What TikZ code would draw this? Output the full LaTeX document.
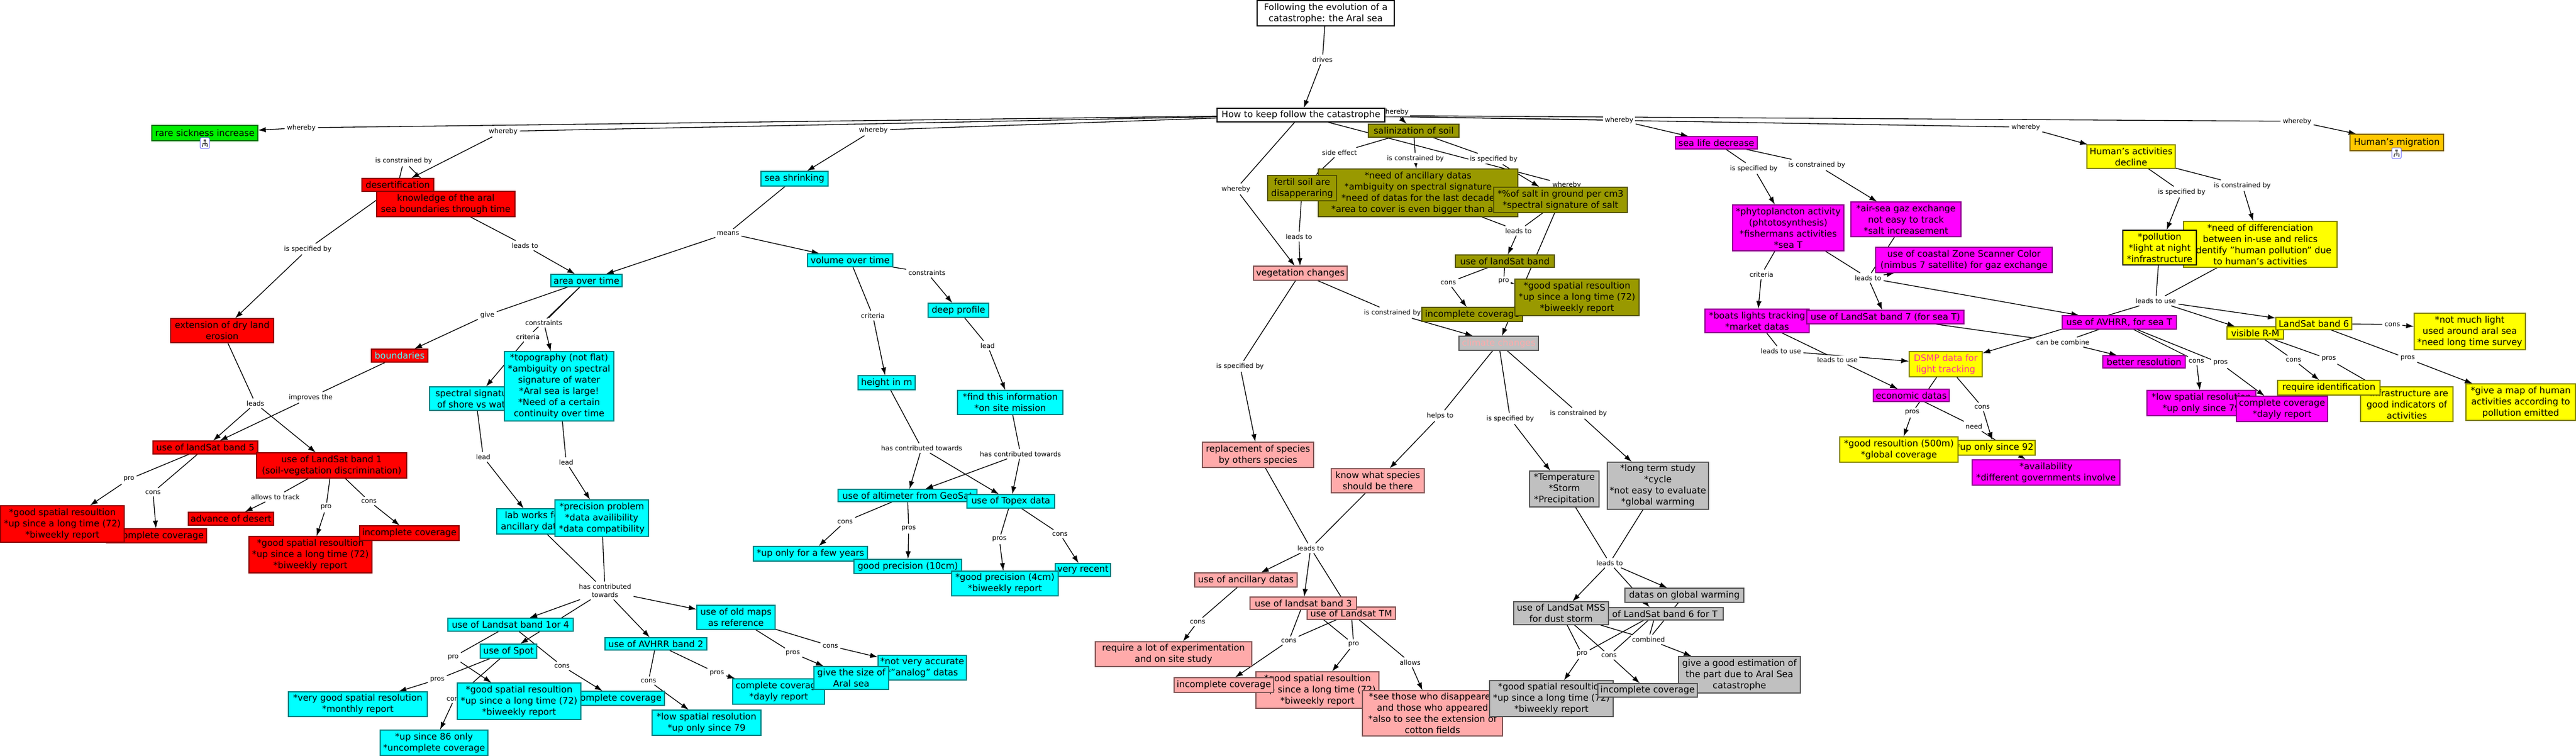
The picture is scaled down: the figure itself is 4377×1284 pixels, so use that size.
\documentclass[tikz,border=0pt]{standalone}
\usepackage{fontspec}
\setmainfont{DejaVu Sans}
\usetikzlibrary{arrows.meta,backgrounds}
\definecolor{cRed}{HTML}{FF0000}
\definecolor{cCyan}{HTML}{00FFFF}
\definecolor{cOlive}{HTML}{999900}
\definecolor{cPink}{HTML}{FFAAAA}
\definecolor{cGray}{HTML}{C0C0C0}
\definecolor{cMag}{HTML}{FF00FF}
\definecolor{cYel}{HTML}{FFFF00}
\definecolor{cOra}{HTML}{FFC800}
\definecolor{cGre}{HTML}{00EE00}
\definecolor{cHot}{HTML}{FF3399}
\tikzset{
  bxbase/.style={rectangle,line width=1.2pt,inner sep=0pt,align=center,font=\fontsize{15.2}{19}\selectfont},
  Wbx/.style={bxbase,fill=white,draw=black},
  Rbx/.style={bxbase,fill=cRed,draw=cRed!55!black},
  Cbx/.style={bxbase,fill=cCyan,draw=cCyan!50!black},
  Obx/.style={bxbase,fill=cOlive,draw=cOlive!55!black},
  Pbx/.style={bxbase,fill=cPink,draw=cPink!50!black},
  Gbx/.style={bxbase,fill=cGray,draw=cGray!45!black},
  Mbx/.style={bxbase,fill=cMag,draw=cMag!55!black},
  Ybx/.style={bxbase,fill=cYel,draw=cYel!50!black},
  Abx/.style={bxbase,fill=cOra,draw=cOra!50!black},
  Gnbx/.style={bxbase,fill=cGre,draw=cGre!50!black},
  lbl/.style={rectangle,fill=white,inner sep=2.5pt,outer sep=1.5pt,align=center,font=\fontsize{11.3}{14}\selectfont},
  conn/.style={line width=1.3pt,draw=black},
  conar/.style={conn,-{Latex[length=13pt,width=9pt]}},
}
\newcommand{\bx}[7][]{%
  \pgfmathsetmacro{\cxx}{(#4+#6)/2}\pgfmathsetmacro{\cyy}{(#5+#7)/2}%
  \pgfmathsetmacro{\wwx}{#6-#4}\pgfmathsetmacro{\hhx}{#7-#5}%
  \node[#2,minimum width=\wwx pt,minimum height=\hhx pt,#1] (#3) at (\cxx,\cyy) {\bxtext};}
\newcommand{\bxtext}{}
\newcommand{\B}[8][]{\renewcommand{\bxtext}{#8}\bx[#1]{#2}{#3}{#4}{#5}{#6}{#7}}
\newcommand{\lb}[4]{\node[lbl] (#1) at (#2,#3) {#4};}
\newcommand{\iconmark}[2]{%
  \draw[line width=1pt,draw=blue!60!white,fill=white,rounded corners=2pt] (#1-8,#2) rectangle (#1+8,#2+18);
  \draw[line width=1pt,draw=black!70] (#1,#2+4) -- (#1,#2+14) (#1-4,#2+10) -- (#1+4,#2+10) (#1-4,#2+10) -- (#1-4,#2+14) (#1+4,#2+10) -- (#1+4,#2+14);
  \fill[black!70] (#1-2,#2+3) rectangle (#1+2,#2+6) (#1-5,#2+13) rectangle (#1-3,#2+15) (#1+3,#2+13) rectangle (#1+5,#2+15);}
\begin{document}
\begin{tikzpicture}[x=1pt,y=-1pt]
\useasboundingbox (0,0) rectangle (4377,1284);
% ---- linking phrases
\lb{lDrives}{2247}{101}{drives}
\lb{wRare}{512}{217}{whereby}
\lb{wDes}{855}{223}{whereby}
\lb{wSea}{1484}{221}{whereby}
\lb{wSal}{2369}{190}{whereby}
\lb{wVeg}{2100}{321}{whereby}
\lb{wClim}{2662}{314}{whereby}
\lb{wLife}{2751}{204}{whereby}
\lb{wAct}{3442}{216}{whereby}
\lb{wMig}{3903}{206}{whereby}
\lb{lDesC}{686}{273}{is constrained by}
\lb{lDesS}{523}{423}{is specified by}
\lb{lKnow}{892}{417}{leads to}
\lb{lGive}{828}{535}{give}
\lb{lAreaC}{924}{548}{constraints}
\lb{lAreaK}{897}{572}{criteria}
\lb{lLeads}{434}{685}{leads}
\lb{lImpr}{528}{675}{improves the}
\lb{lLeadA}{821}{776}{lead}
\lb{lLeadB}{962}{785}{lead}
\lb{lPro5}{219}{814}{pro}
\lb{lCons5}{260}{836}{cons}
\lb{lTrack}{468}{844}{allows to track}
\lb{lPro1}{554}{862}{pro}
\lb{lCons1}{627}{851}{cons}
\lb{lHas}{1028}{1003}{has contributed\\towards}
\lb{lPro14}{770}{1116}{pro}
\lb{lCons14}{955}{1131}{cons}
\lb{lProsSp}{743}{1154}{pros}
\lb{lConsSp}{772}{1187}{cons}
\lb{lProsMap}{1347}{1109}{pros}
\lb{lConsMap}{1411}{1097}{cons}
\lb{lProsAv}{1218}{1143}{pros}
\lb{lConsAv}{1102}{1156}{cons}
\lb{lMeans}{1237}{396}{means}
\lb{lVolC}{1575}{463}{constraints}
\lb{lVolK}{1483}{536}{criteria}
\lb{lDeep}{1678}{587}{lead}
\lb{lHasA}{1566}{761}{has contributed towards}
\lb{lHasB}{1734}{771}{has contributed towards}
\lb{lConsAl}{1436}{886}{cons}
\lb{lProsAl}{1544}{898}{pros}
\lb{lProsTo}{1698}{916}{pros}
\lb{lConsTo}{1801}{907}{cons}
\lb{lSide}{2276}{259}{side effect}
\lb{lSalC}{2405}{269}{is constrained by}
\lb{lSalS}{2538}{270}{is specified by}
\lb{lFert}{2207}{402}{leads to}
\lb{lSalL}{2580}{392}{leads to}
\lb{lConsBd}{2461}{480}{cons}
\lb{lProBd}{2555}{478}{pro}
\lb{lVegC}{2366}{531}{is constrained by}
\lb{lVegS}{2107}{622}{is specified by}
\lb{lHelps}{2447}{706}{helps to}
\lb{lClimS}{2566}{711}{is specified by}
\lb{lClimC}{2682}{702}{is constrained by}
\lb{lLeadP}{2227}{931}{leads to}
\lb{lLeadG}{2735}{956}{leads to}
\lb{lConsAn}{2035}{1056}{cons}
\lb{lConsTM}{2190}{1088}{cons}
\lb{lProTM}{2300}{1094}{pro}
\lb{lAllows}{2396}{1125}{allows}
\lb{lCombi}{2801}{1086}{combined}
\lb{lProMS}{2688}{1111}{pro}
\lb{lConsMS}{2734}{1113}{cons}
\lb{lLifeS}{2980}{286}{is specified by}
\lb{lLifeC}{3087}{280}{is constrained by}
\lb{lPhyK}{2993}{466}{criteria}
\lb{lPhyL}{3174}{472}{leads to}
\lb{lUseA}{3026}{596}{leads to use}
\lb{lUseB}{3122}{611}{leads to use}
\lb{lCan}{3505}{581}{can be combine}
\lb{lConsD}{3368}{691}{cons}
\lb{lProsD}{3249}{701}{pros}
\lb{lNeed}{3354}{724}{need}
\lb{lActS}{3707}{326}{is specified by}
\lb{lActC}{3810}{315}{is constrained by}
\lb{lUseC}{3663}{511}{leads to use}
\lb{lConsA}{3732}{613}{cons}
\lb{lProsA}{3773}{617}{pros}
\lb{lConsV}{3897}{611}{cons}
\lb{lProsV}{3957}{610}{pros}
\lb{lConsL}{4065}{551}{cons}
\lb{lProsL}{4091}{609}{pros}
% ---- concepts
\B{Wbx}{nTitle}{2136}{1}{2369}{44}{Following the evolution of a\\catastrophe: the Aral sea}
\B{Wbx}{nHow}{2068}{184}{2353}{207}{How to keep follow the catastrophe}
\B{Gnbx}{nRare}{258}{213}{438}{239}{rare sickness increase}
% red
\B{Rbx}{nDes}{615}{303}{737}{325}{desertification}
\B{Rbx}{nKnow}{640}{325}{875}{368}{knowledge of the aral\\sea boundaries through time}
\B{Rbx}{nExt}{290}{541}{465}{582}{extension of dry land\\erosion}
\B[text=cCyan!70!white]{Rbx}{nBound}{631}{593}{727}{615}{boundaries}
\B{Rbx}{nBdF}{260}{749}{438}{771}{use of landSat band 5}
\B{Rbx}{nBdO}{436}{769}{691}{812}{use of LandSat band 1\\(soil-vegetation discrimination)}
\B{Rbx}{nIncA}{181}{898}{351}{922}{incomplete coverage}
\B{Rbx}{nGoodA}{1}{859}{211}{921}{*good spatial resoultion\\*up since a long time (72)\\*biweekly report}
\B{Rbx}{nAdv}{320}{870}{465}{892}{advance of desert}
\B{Rbx}{nGoodB}{423}{911}{632}{973}{*good spatial resoultion\\*up since a long time (72)\\*biweekly report}
\B{Rbx}{nIncB}{611}{893}{780}{918}{incomplete coverage}
% cyan
\B{Cbx}{nSea}{1293}{291}{1407}{316}{sea shrinking}
\B{Cbx}{nArea}{936}{466}{1057}{487}{area over time}
\B{Cbx}{nVol}{1372}{431}{1517}{453}{volume over time}
\B{Cbx}{nDeep}{1577}{515}{1680}{539}{deep profile}
\B{Cbx}{nHeight}{1458}{638}{1555}{662}{height in m}
\B{Cbx}{nFind}{1627}{663}{1806}{704}{*find this information\\*on site mission}
\B{Cbx}{nSpec}{730}{657}{887}{697}{spectral signature\\of shore vs water}
\B{Cbx}{nTopo}{857}{597}{1043}{715}{*topography (not flat)\\*ambiguity on spectral\\signature of water\\*Aral sea is large!\\*Need of a certain\\continuity over time}
\B{Cbx}{nLab}{844}{864}{970}{907}{lab works for\\ancillary datas}
\B{Cbx}{nPrec}{943}{849}{1102}{911}{*precision problem\\*data availibility\\*data compatibility}
\B{Cbx}{nBdOF}{761}{1050}{974}{1072}{use of Landsat band 1or 4}
\B{Cbx}{nSpot}{816}{1094}{912}{1118}{use of Spot}
\B{Cbx}{nAvh}{1028}{1083}{1201}{1104}{use of AVHRR band 2}
\B{Cbx}{nMaps}{1184}{1028}{1317}{1069}{use of old maps\\as reference}
\B{Cbx}{nVery}{490}{1175}{726}{1217}{*very good spatial resolution\\*monthly report}
\B{Cbx}{nIncC}{959}{1174}{1129}{1198}{incomplete coverage}
\B{Cbx}{nGoodC}{777}{1160}{987}{1222}{*good spatial resoultion\\*up since a long time (72)\\*biweekly report}
\B{Cbx}{nSince}{646}{1240}{829}{1283}{*up since 86 only\\*uncomplete coverage}
\B{Cbx}{nLow}{1108}{1206}{1293}{1249}{*low spatial resolution\\*up only since 79}
\B{Cbx}{nCompl}{1245}{1153}{1401}{1196}{complete coverage\\*dayly report}
\B{Cbx}{nAcc}{1492}{1113}{1642}{1155}{*not very accurate\\*"analog" datas}
\B{Cbx}{nSize}{1383}{1132}{1510}{1171}{give the size of\\Aral sea}
\B{Cbx}{nAlt}{1424}{831}{1660}{852}{use of altimeter from GeoSat}
\B{Cbx}{nTop}{1643}{840}{1792}{863}{use of Topex data}
\B{Cbx}{nFew}{1280}{928}{1474}{953}{*up only for a few years}
\B{Cbx}{nTen}{1451}{950}{1634}{974}{good precision (10cm)}
\B{Cbx}{nRec}{1793}{957}{1887}{979}{very recent}
\B{Cbx}{nFour}{1617}{970}{1798}{1012}{*good precision (4cm)\\*biweekly report}
% olive
\B{Obx}{nSal}{2325}{211}{2479}{233}{salinization of soil}
\B{Obx}{nNeedA}{2240}{287}{2579}{368}{*need of ancillary datas\\*ambiguity on spectral signature\\*need of datas for the last decade\\*area to cover is even bigger than aral}
\B{Obx}{nFert}{2154}{298}{2271}{341}{fertil soil are\\disapperaring}
\B{Obx}{nSalt}{2538}{318}{2765}{361}{*\%of salt in ground per cm3\\*spectral signature of salt}
\B{Obx}{nBdL}{2473}{433}{2641}{454}{use of landSat band}
\B{Obx}{nIncO}{2416}{522}{2587}{546}{incomplete coverage}
\B{Obx}{nGoodO}{2574}{474}{2785}{536}{*good spatial resoultion\\*up since a long time (72)\\*biweekly report}
\B[text=cPink]{Gbx}{nClim}{2479}{571}{2614}{595}{climate changes}
% pink
\B{Pbx}{nVeg}{2130}{452}{2289}{476}{vegetation changes}
\B{Pbx}{nRepl}{2043}{751}{2232}{794}{replacement of species\\by others species}
\B{Pbx}{nSpecies}{2262}{796}{2420}{837}{know what species\\should be there}
\B{Pbx}{nAnc}{2030}{973}{2204}{997}{use of ancillary datas}
\B{Pbx}{nTM}{2221}{1031}{2371}{1052}{use of Landsat TM}
\B{Pbx}{nBdT}{2124}{1014}{2305}{1035}{use of landsat band 3}
\B{Pbx}{nReq}{1861}{1090}{2127}{1132}{require a lot of experimentation\\and on site study}
\B{Pbx}{nGoodP}{2134}{1141}{2343}{1203}{*good spatial resoultion\\*up since a long time (72)\\*biweekly report}
\B{Pbx}{nIncP}{1995}{1151}{2164}{1176}{incomplete coverage}
\B{Pbx}{nSee}{2315}{1173}{2553}{1250}{*see those who disappeared\\and those who appeared\\*also to see the extension of\\cotton fields}
% gray
\B{Gbx}{nTemp}{2599}{800}{2717}{861}{*Temperature\\*Storm\\*Precipitation}
\B{Gbx}{nTerm}{2731}{785}{2903}{865}{*long term study\\*cycle\\*not easy to evaluate\\*global warming}
\B{Gbx}{nBdS}{2698}{1032}{2928}{1053}{use of LandSat band 6 for T}
\B{Gbx}{nDatas}{2761}{999}{2963}{1023}{datas on global warming}
\B{Gbx}{nMSS}{2572}{1022}{2733}{1061}{use of LandSat MSS\\for dust storm}
\B{Gbx}{nEst}{2852}{1115}{3059}{1177}{give a good estimation of\\the part due to Aral Sea\\catastrophe}
\B{Gbx}{nGoodG}{2531}{1156}{2741}{1217}{*good spatial resoultion\\*up since a long time (72)\\*biweekly report}
\B{Gbx}{nIncG}{2715}{1161}{2884}{1184}{incomplete coverage}
% magenta
\B{Mbx}{nLife}{2847}{232}{2986}{253}{sea life decrease}
\B{Mbx}{nPhy}{2944}{348}{3133}{426}{*phytoplancton activity\\(phtotosynthesis)\\*fishermans activities\\*sea T}
\B{Mbx}{nAir}{3145}{343}{3332}{402}{*air-sea gaz exchange\\not easy to track\\*salt increasement}
\B{Mbx}{nCoast}{3187}{420}{3487}{463}{use of coastal Zone Scanner Color\\(nimbus 7 satellite) for gaz exchange}
\B{Mbx}{nBoats}{2897}{525}{3074}{565}{*boats lights tracking\\*market datas}
\B{Mbx}{nBdS7}{3070}{527}{3337}{550}{use of LandSat band 7 (for sea T)}
\B{Mbx}{nEco}{3183}{661}{3312}{682}{economic datas}
\B{Mbx}{nAva}{3351}{781}{3602}{824}{*availability\\*different governments involve}
\B{Mbx}{nAvT}{3504}{536}{3698}{559}{use of AVHRR, for sea T}
\B{Mbx}{nBetter}{3573}{604}{3713}{625}{better resolution}
\B{Mbx}{nLowM}{3648}{663}{3833}{706}{*low spatial resolution\\*up only since 79}
\B{Mbx}{nComM}{3800}{673}{3955}{716}{complete coverage\\*dayly report}
% yellow
\B[text=cHot]{Ybx}{nDSMP}{3244}{597}{3368}{640}{DSMP data for\\light tracking}
\B{Ybx}{nUp}{3320}{748}{3458}{773}{*up only since 92}
\B{Ybx}{nRes}{3126}{742}{3327}{785}{*good resoultion (500m)\\*global coverage}
\B{Ybx}{nAct}{3546}{246}{3696}{286}{Human's activities\\decline}
\B{Abx}{nMig}{3993}{228}{4152}{256}{Human's migration}
\B{Ybx}{nNeedH}{3710}{376}{3971}{454}{*need of differenciation\\between in-use and relics\\*identify "human pollution" due\\to human's activities}
\B[draw=black]{Ybx}{nPoll}{3607}{391}{3732}{450}{*pollution\\*light at night\\*infrastructure}
\B{Ybx}{nVis}{3784}{555}{3880}{576}{visible R-M}
\B{Ybx}{nSix}{3867}{539}{3996}{560}{LandSat band 6}
\B{Ybx}{nNot}{4102}{532}{4291}{594}{*not much light\\used around aral sea\\*need long time survey}
\B{Ybx}{nInf}{4011}{657}{4168}{716}{*infrastructure are\\good indicators of\\activities}
\B{Ybx}{nReqI}{3870}{646}{4044}{671}{require identification}
\B{Ybx}{nMap}{4190}{652}{4376}{714}{*give a map of human\\activities according to\\pollution emitted}
% nested-map icons
\iconmark{348}{234}
\iconmark{4072}{251}
% ---- connectors
\begin{pgfonlayer}{background}
\foreach \a/\b in {nTitle/lDrives,nHow/wRare,nHow/wDes,nHow/wSea,nHow/wSal,nHow/wVeg,nHow/wClim,nHow/wLife,nHow/wAct,nHow/wMig,
 nDes/lDesC,nDes/lDesS,nKnow/lKnow,nSea/lMeans,nArea/lGive,nArea/lAreaC,nArea/lAreaK,nExt/lLeads,nBound/lImpr,
 nBdF/lPro5,nBdF/lCons5,nBdO/lTrack,nBdO/lPro1,nBdO/lCons1,nSpec/lLeadA,nTopo/lLeadB,nLab/lHas,nPrec/lHas,
 nBdOF/lPro14,nBdOF/lCons14,nSpot/lProsSp,nSpot/lConsSp,nMaps/lProsMap,nMaps/lConsMap,nAvh/lProsAv,nAvh/lConsAv,
 nVol/lVolC,nVol/lVolK,nDeep/lDeep,nHeight/lHasA,nFind/lHasB,nAlt/lConsAl,nAlt/lProsAl,nTop/lProsTo,nTop/lConsTo,
 nSal/lSide,nSal/lSalC,nSal/lSalS,nFert/lFert,nNeedA/lSalL,nSalt/lSalL,nBdL/lConsBd,nBdL/lProBd,nVeg/lVegC,nVeg/lVegS,
 nClim/lHelps,nClim/lClimS,nClim/lClimC,nRepl/lLeadP,nSpecies/lLeadP,nTemp/lLeadG,nTerm/lLeadG,nAnc/lConsAn,nBdT/lConsTM,nTM/lConsTM,
 nBdT/lProTM,nTM/lProTM,nTM/lAllows,nMSS/lCombi,nBdS/lCombi,nDatas/lCombi,nMSS/lProMS,nBdS/lProMS,nMSS/lConsMS,nBdS/lConsMS,
 nLife/lLifeS,nLife/lLifeC,nPhy/lPhyK,nPhy/lPhyL,nAir/lPhyL,nBoats/lUseA,nBoats/lUseB,nBdS7/lCan,nAvT/lCan,nDSMP/lConsD,nDSMP/lProsD,nEco/lNeed,
 nAct/lActS,nAct/lActC,nPoll/lUseC,nNeedH/lUseC,nAvT/lConsA,nAvT/lProsA,nVis/lConsV,nVis/lProsV,nSix/lConsL,nSix/lProsL}
 {\draw[conn] (\a) -- (\b);}
\foreach \a/\b in {lDrives/nHow,wRare/nRare,wDes/nDes,wSea/nSea,wSal/nSal,wVeg/nVeg,wClim/nClim,wLife/nLife,wAct/nAct,wMig/nMig,
 lDesC/nKnow,lDesS/nExt,lKnow/nArea,lMeans/nArea,lMeans/nVol,lGive/nBound,lAreaC/nTopo,lAreaK/nSpec,lLeads/nBdF,lLeads/nBdO,lImpr/nBdF,
 lPro5/nGoodA,lCons5/nIncA,lTrack/nAdv,lPro1/nGoodB,lCons1/nIncB,lLeadA/nLab,lLeadB/nPrec,lHas/nBdOF,lHas/nSpot,lHas/nAvh,lHas/nMaps,
 lPro14/nGoodC,lCons14/nIncC,lProsSp/nVery,lConsSp/nSince,lProsMap/nSize,lConsMap/nAcc,lProsAv/nCompl,lConsAv/nLow,
 lVolC/nDeep,lVolK/nHeight,lDeep/nFind,lHasA/nAlt,lHasA/nTop,lHasB/nAlt,lHasB/nTop,lConsAl/nFew,lProsAl/nTen,lProsTo/nFour,lConsTo/nRec,
 lSide/nFert,lSalC/nNeedA,lSalS/nSalt,lFert/nVeg,lSalL/nBdL,lConsBd/nIncO,lProBd/nGoodO,lVegC/nClim,lVegS/nRepl,
 lHelps/nSpecies,lClimS/nTemp,lClimC/nTerm,lLeadP/nAnc,lLeadP/nBdT,lLeadP/nTM,lLeadG/nMSS,lLeadG/nBdS,lLeadG/nDatas,lConsAn/nReq,lConsTM/nIncP,lProTM/nGoodP,lAllows/nSee,
 lCombi/nEst,lProMS/nGoodG,lConsMS/nIncG,lLifeS/nPhy,lLifeC/nAir,lPhyK/nBoats,lPhyL/nCoast,lPhyL/nBdS7,lPhyL/nAvT,lUseA/nDSMP,lUseB/nEco,lCan/nBetter,
 lConsD/nUp,lProsD/nRes,lNeed/nAva,lActS/nPoll,lActC/nNeedH,lUseC/nDSMP,lUseC/nVis,lUseC/nSix,lConsA/nLowM,lProsA/nComM,lConsV/nReqI,lProsV/nInf,lConsL/nNot,lProsL/nMap}
 {\draw[conar] (\a) -- (\b);}
\end{pgfonlayer}
\end{tikzpicture}
\end{document}
